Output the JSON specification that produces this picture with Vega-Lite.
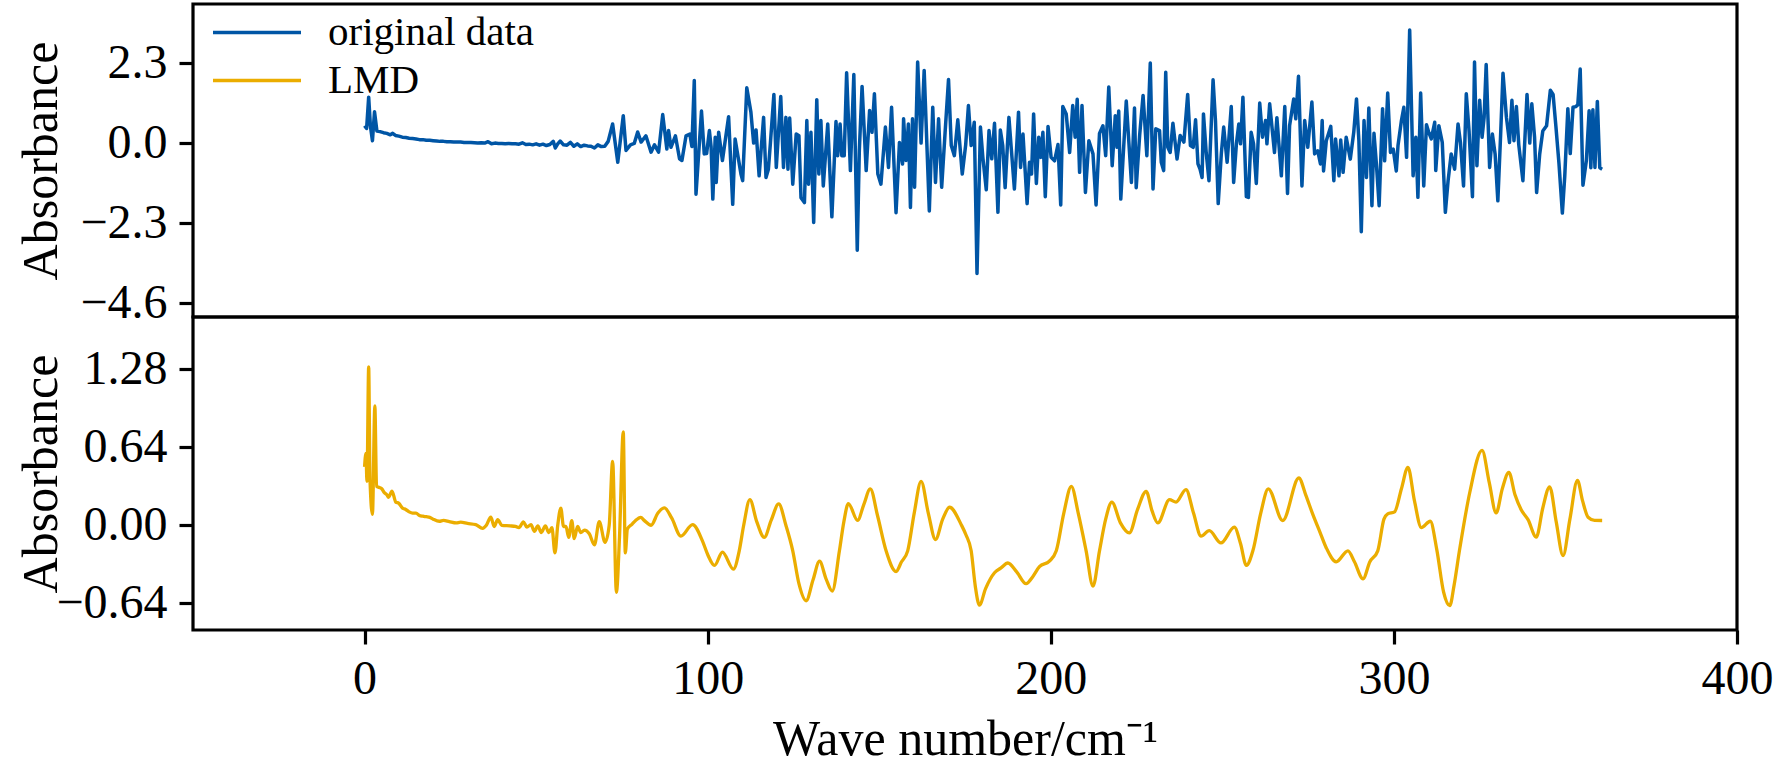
{
  "$schema": "https://vega.github.io/schema/vega-lite/v6.json",
  "background": "white",
  "padding": {"left": 14, "top": 2, "right": 4, "bottom": 4},
  "spacing": 0,
  "bounds": "flush",
  "config": {
    "font": "Liberation Serif",
    "view": {"stroke": "black", "strokeWidth": 3.2},
    "axis": {
      "grid": false,
      "domain": false,
      "ticks": true,
      "tickColor": "black",
      "tickWidth": 3.2,
      "tickSize": 14,
      "labelColor": "black",
      "labelFont": "Liberation Serif",
      "labelFontSize": 48,
      "labelFlush": false,
      "labelOverlap": false,
      "titleColor": "black",
      "titleFont": "Liberation Serif",
      "titleFontSize": 50,
      "titleFontWeight": "normal"
    }
  },
  "datasets": {
    "orig": [
      {"wave":0,"value":0.5},{"wave":0.6,"value":0.42},{"wave":1.2,"value":1.32},{"wave":1.7,"value":0.5},{"wave":2.3,"value":0.07},{"wave":2.9,"value":0.9},{"wave":3.6,"value":0.35},{"wave":4.5,"value":0.33},{"wave":5.5,"value":0.3},{"wave":6.5,"value":0.28},{"wave":7.5,"value":0.24},{"wave":8.2,"value":0.28},{"wave":9,"value":0.22},{"wave":10,"value":0.2},{"wave":11,"value":0.17},{"wave":12,"value":0.16},{"wave":13,"value":0.14},{"wave":14,"value":0.13},{"wave":15,"value":0.12},{"wave":16,"value":0.1},{"wave":17,"value":0.1},{"wave":18,"value":0.08},{"wave":19,"value":0.08},{"wave":20,"value":0.07},{"wave":21,"value":0.06},{"wave":22,"value":0.05},{"wave":23,"value":0.05},{"wave":24,"value":0.04},{"wave":25,"value":0.04},{"wave":26,"value":0.03},{"wave":27,"value":0.03},{"wave":28,"value":0.03},{"wave":29,"value":0.02},{"wave":30,"value":0.02},{"wave":31,"value":0.02},{"wave":32,"value":0.01},{"wave":33,"value":0.0},{"wave":34,"value":0.01},{"wave":35,"value":0.0},{"wave":36,"value":0.04},{"wave":37,"value":-0.02},{"wave":38,"value":0.0},{"wave":39,"value":-0.01},{"wave":40,"value":-0.01},{"wave":41,"value":-0.02},{"wave":42,"value":-0.01},{"wave":43,"value":-0.02},{"wave":44,"value":-0.02},{"wave":45,"value":-0.03},{"wave":46,"value":0.01},{"wave":47,"value":-0.04},{"wave":48,"value":-0.03},{"wave":49,"value":-0.05},{"wave":50,"value":-0.02},{"wave":51,"value":-0.06},{"wave":52,"value":-0.03},{"wave":53,"value":-0.07},{"wave":54,"value":-0.04},{"wave":55,"value":0.05},{"wave":55.6,"value":-0.14},{"wave":56.3,"value":-0.02},{"wave":57,"value":0.06},{"wave":58,"value":-0.05},{"wave":59,"value":-0.06},{"wave":60,"value":0.02},{"wave":61,"value":-0.09},{"wave":62,"value":-0.02},{"wave":63,"value":-0.1},{"wave":64,"value":-0.06},{"wave":65,"value":-0.08},{"wave":66,"value":-0.09},{"wave":67,"value":-0.14},{"wave":68,"value":-0.05},{"wave":69,"value":-0.1},{"wave":70,"value":-0.09},{"wave":71,"value":0.05},
      {"wave":72.3,"value":0.55},{"wave":73.8,"value":-0.55},{"wave":75.4,"value":0.79},{"wave":76.2,"value":-0.21},{"wave":77.5,"value":-0.05},{"wave":78.6,"value":-0.01},{"wave":79.6,"value":0.32},{"wave":80.6,"value":0.03},{"wave":82,"value":0.21},{"wave":83.5,"value":-0.26},{"wave":84.5,"value":-0.05},{"wave":85.7,"value":-0.26},{"wave":86.9,"value":0.82},{"wave":88.1,"value":-0.17},{"wave":88.6,"value":0.36},{"wave":89.3,"value":-0.12},{"wave":90.6,"value":0.21},{"wave":91.8,"value":-0.45},{"wave":92.5,"value":-0.5},{"wave":93.7,"value":0.21},{"wave":94.8,"value":0.26},{"wave":95.4,"value":-0.1},{"wave":96.1,"value":1.8},{"wave":96.6,"value":-1.47},{"wave":98.2,"value":0.92},{"wave":99,"value":-0.31},{"wave":99.7,"value":-0.3},{"wave":100.5,"value":0.36},{"wave":101,"value":-0.1},{"wave":101.5,"value":-1.61},{"wave":102.2,"value":0.17},{"wave":102.5,"value":-1.13},{"wave":103.2,"value":0.31},{"wave":104.3,"value":-0.5},{"wave":106.1,"value":0.76},{"wave":107.3,"value":-1.76},{"wave":108,"value":0.12},{"wave":109.7,"value":-0.89},{"wave":110.2,"value":-1.08},{"wave":111.4,"value":1.59},{"wave":112.6,"value":0.89},{"wave":113.4,"value":0.0},{"wave":114.1,"value":0.38},{"wave":115,"value":-0.94},{"wave":116.3,"value":0.74},{"wave":117,"value":-0.99},{"wave":117.7,"value":-0.75},{"wave":118.3,"value":0.02},{"wave":119.3,"value":1.4},{"wave":120,"value":-0.7},{"wave":121.3,"value":1.34},{"wave":122.1,"value":-0.7},{"wave":122.8,"value":0.74},{"wave":123.4,"value":-0.75},{"wave":123.9,"value":0.72},{"wave":124.8,"value":-1.18},{"wave":125.8,"value":0.26},{"wave":126.6,"value":0.21},{"wave":127.2,"value":-1.57},{"wave":128.2,"value":-1.71},{"wave":128.9,"value":0.65},{"wave":129.4,"value":-1.18},{"wave":130.1,"value":0.31},{"wave":130.9,"value":-2.28},{"wave":131.8,"value":1.25},{"wave":132.4,"value":-0.89},{"wave":133,"value":0.65},{"wave":133.7,"value":-1.23},{"wave":135,"value":0.55},{"wave":136.2,"value":-2.12},{"wave":137.4,"value":0.62},{"wave":137.9,"value":-0.36},{"wave":138.6,"value":0.55},{"wave":139.1,"value":-0.36},{"wave":139.8,"value":-0.36},{"wave":140.5,"value":2.02},{"wave":141.6,"value":-0.79},{"wave":142.6,"value":1.97},{"wave":143.6,"value":-3.08},{"wave":144.2,"value":-0.21},{"wave":145,"value":1.63},{"wave":146.2,"value":-0.79},{"wave":147.2,"value":0.94},{"wave":147.9,"value":0.31},{"wave":148.6,"value":1.42},{"wave":149.6,"value":-0.89},{"wave":150.5,"value":-1.18},{"wave":151.8,"value":0.46},{"wave":152.7,"value":-0.7},{"wave":153.6,"value":1.03},{"wave":154.9,"value":-2.0},{"wave":155.9,"value":0.02},{"wave":156.8,"value":-0.6},{"wave":157.1,"value":0.7},{"wave":157.8,"value":-0.5},{"wave":158.5,"value":0.55},{"wave":159.1,"value":-1.85},{"wave":159.7,"value":0.7},{"wave":160.3,"value":-1.27},{"wave":161.2,"value":2.33},{"wave":162.2,"value":0.0},{"wave":163.1,"value":2.09},{"wave":164.6,"value":-1.95},{"wave":165.6,"value":1.03},{"wave":166.4,"value":-1.13},{"wave":167.3,"value":0.7},{"wave":168.2,"value":-1.27},{"wave":169.2,"value":0.31},{"wave":170.2,"value":1.83},{"wave":171,"value":-0.07},{"wave":171.9,"value":-0.36},{"wave":172.9,"value":0.67},{"wave":174.2,"value":-0.89},{"wave":175.2,"value":-0.05},{"wave":176,"value":1.08},{"wave":176.8,"value":-0.07},{"wave":177.7,"value":0.6},{"wave":178.5,"value":-3.75},{"wave":179.5,"value":0.46},{"wave":180.2,"value":-0.41},{"wave":181.2,"value":-1.34},{"wave":182,"value":0.36},{"wave":182.8,"value":-0.45},{"wave":183.6,"value":0.57},{"wave":184.6,"value":-1.99},{"wave":185.3,"value":0.38},{"wave":186,"value":-0.07},{"wave":186.7,"value":-1.28},{"wave":187.8,"value":0.74},{"wave":188.5,"value":-0.17},{"wave":189.4,"value":-1.32},{"wave":190.6,"value":0.89},{"wave":191.2,"value":-0.7},{"wave":191.9,"value":0.26},{"wave":193.1,"value":-1.74},{"wave":193.8,"value":-0.55},{"wave":194.4,"value":-0.89},{"wave":195,"value":0.84},{"wave":195.8,"value":-1.16},{"wave":196.5,"value":0.17},{"wave":197.1,"value":-0.41},{"wave":197.7,"value":0.31},{"wave":198.4,"value":-1.54},{"wave":199.2,"value":0.48},{"wave":200.1,"value":-0.41},{"wave":201.1,"value":-0.51},{"wave":202.1,"value":-0.04},{"wave":202.9,"value":-1.78},{"wave":203.5,"value":1.05},{"wave":204.5,"value":0.84},{"wave":205.5,"value":-0.27},{"wave":206.4,"value":1.08},{"wave":207.1,"value":0.17},{"wave":207.7,"value":1.26},{"wave":208.4,"value":-0.84},{"wave":209.1,"value":1.08},{"wave":210.1,"value":-1.42},{"wave":211.1,"value":0.07},{"wave":212.3,"value":-0.31},{"wave":213.2,"value":-1.78},{"wave":214.2,"value":0.28},{"wave":215.2,"value":0.5},{"wave":216,"value":-0.36},{"wave":216.9,"value":1.61},{"wave":217.9,"value":-0.65},{"wave":218.8,"value":0.79},{"wave":219.3,"value":-0.12},{"wave":219.8,"value":0.92},{"wave":220.4,"value":-1.61},{"wave":221,"value":-0.55},{"wave":222,"value":1.21},{"wave":223.5,"value":-1.13},{"wave":224.4,"value":1.01},{"wave":224.9,"value":-1.28},{"wave":225.9,"value":0.22},{"wave":226.9,"value":1.37},{"wave":228,"value":-0.36},{"wave":229,"value":2.3},{"wave":229.8,"value":-1.32},{"wave":230.6,"value":0.41},{"wave":231.7,"value":0.36},{"wave":232.2,"value":-0.55},{"wave":232.9,"value":-0.79},{"wave":233.5,"value":2.04},{"wave":234.1,"value":-0.12},{"wave":234.8,"value":-0.27},{"wave":235.6,"value":0.57},{"wave":236.8,"value":-0.46},{"wave":237.7,"value":0.22},{"wave":238.8,"value":0.03},{"wave":239.9,"value":1.4},{"wave":240.7,"value":-0.07},{"wave":241.5,"value":-0.12},{"wave":242.2,"value":0.67},{"wave":242.9,"value":-0.6},{"wave":243.5,"value":-0.75},{"wave":244.1,"value":-0.99},{"wave":244.5,"value":0.84},{"wave":245.3,"value":-0.27},{"wave":246.1,"value":-1.08},{"wave":247.3,"value":1.82},{"wave":248,"value":0.65},{"wave":248.8,"value":-1.74},{"wave":249.7,"value":-0.31},{"wave":250.4,"value":0.46},{"wave":251.4,"value":-0.55},{"wave":252.6,"value":1.05},{"wave":253.3,"value":-1.13},{"wave":254.1,"value":-0.02},{"wave":254.8,"value":0.55},{"wave":255.3,"value":-0.02},{"wave":256,"value":1.32},{"wave":257,"value":-1.54},{"wave":257.6,"value":-1.56},{"wave":258.4,"value":0.31},{"wave":259.1,"value":-0.02},{"wave":259.9,"value":-1.16},{"wave":260.9,"value":1.15},{"wave":261.7,"value":0.17},{"wave":262.6,"value":0.65},{"wave":263,"value":-0.02},{"wave":263.8,"value":1.13},{"wave":265.2,"value":-0.27},{"wave":265.9,"value":0.73},{"wave":267.2,"value":-0.94},{"wave":268.2,"value":1.05},{"wave":269,"value":-1.45},{"wave":269.6,"value":0.5},{"wave":270.8,"value":1.27},{"wave":271.4,"value":0.7},{"wave":272.2,"value":1.92},{"wave":273.2,"value":-1.23},{"wave":274,"value":0.65},{"wave":274.9,"value":-0.12},{"wave":276.1,"value":1.18},{"wave":276.9,"value":-0.31},{"wave":277.8,"value":-0.22},{"wave":278.6,"value":-0.6},{"wave":279.1,"value":0.65},{"wave":279.5,"value":-0.8},{"wave":280.3,"value":0.07},{"wave":281.6,"value":0.48},{"wave":282.5,"value":-1.08},{"wave":283,"value":0.12},{"wave":284,"value":-0.94},{"wave":284.5,"value":0.09},{"wave":285.2,"value":-0.84},{"wave":286.1,"value":0.17},{"wave":287.3,"value":-0.46},{"wave":288.3,"value":0.31},{"wave":289.1,"value":1.27},{"wave":289.8,"value":0.07},{"wave":290.5,"value":-2.55},{"wave":291.3,"value":0.65},{"wave":292,"value":-0.99},{"wave":292.7,"value":1.01},{"wave":293.6,"value":-1.8},{"wave":294.2,"value":0.28},{"wave":294.9,"value":-0.6},{"wave":295.7,"value":-1.8},{"wave":296.7,"value":0.99},{"wave":297.3,"value":-0.51},{"wave":298.2,"value":1.44},{"wave":299,"value":-0.27},{"wave":299.8,"value":-0.17},{"wave":300.7,"value":-0.8},{"wave":301.2,"value":-0.07},{"wave":302.2,"value":0.65},{"wave":302.9,"value":1.03},{"wave":303.7,"value":-0.41},{"wave":304.6,"value":3.25},{"wave":305.6,"value":-0.94},{"wave":306.4,"value":0.17},{"wave":307,"value":-1.56},{"wave":307.8,"value":1.44},{"wave":308.7,"value":-1.23},{"wave":309.5,"value":0.53},{"wave":310.2,"value":0.3},{"wave":310.9,"value":0.12},{"wave":311.9,"value":0.6},{"wave":312.2,"value":-0.79},{"wave":313.1,"value":0.5},{"wave":314.1,"value":0.02},{"wave":315,"value":-1.99},{"wave":315.8,"value":-1.08},{"wave":316.7,"value":-0.31},{"wave":317.7,"value":-0.75},{"wave":318.7,"value":0.55},{"wave":319.4,"value":0.02},{"wave":320.3,"value":-1.23},{"wave":321.1,"value":1.42},{"wave":321.9,"value":0.36},{"wave":322.9,"value":-1.54},{"wave":323.5,"value":2.33},{"wave":324.2,"value":-0.65},{"wave":325,"value":1.23},{"wave":325.7,"value":0.17},{"wave":326.3,"value":0.74},{"wave":326.9,"value":2.26},{"wave":327.9,"value":-0.7},{"wave":328.7,"value":0.26},{"wave":329.5,"value":-0.31},{"wave":330.3,"value":-1.66},{"wave":331.1,"value":0.22},{"wave":331.8,"value":2.01},{"wave":332.8,"value":0.74},{"wave":333.7,"value":0.02},{"wave":334.4,"value":1.23},{"wave":335,"value":0.07},{"wave":335.7,"value":1.05},{"wave":336.4,"value":-0.05},{"wave":337.6,"value":-1.08},{"wave":338.8,"value":1.4},{"wave":339.6,"value":0.0},{"wave":340.2,"value":1.13},{"wave":341,"value":0.17},{"wave":341.6,"value":-1.42},{"wave":342.5,"value":-0.31},{"wave":343.4,"value":0.35},{"wave":344.5,"value":0.5},{"wave":345.6,"value":1.52},{"wave":346.4,"value":1.4},{"wave":347.2,"value":0.5},{"wave":348.1,"value":-0.57},{"wave":349.1,"value":-2.01},{"wave":349.8,"value":-0.95},{"wave":350.7,"value":0.99},{"wave":351.4,"value":-0.3},{"wave":352.2,"value":1.03},{"wave":353,"value":1.05},{"wave":353.6,"value":1.1},{"wave":354.3,"value":2.13},{"wave":355.1,"value":-1.21},{"wave":356.1,"value":-0.5},{"wave":356.9,"value":0.93},{"wave":357.4,"value":-0.71},{"wave":358,"value":0.96},{"wave":358.6,"value":-0.7},{"wave":359.3,"value":1.2},{"wave":360,"value":-0.71},{"wave":360.7,"value":-0.75}
    ],
    "lmd": [
      {"wave":0,"value":0.48},{"wave":0.4,"value":0.59},{"wave":0.7,"value":0.36},{"wave":1.2,"value":1.3},{"wave":1.6,"value":0.36},{"wave":2.3,"value":0.09},{"wave":3.0,"value":0.98},{"wave":3.5,"value":0.32},{"wave":4.3,"value":0.31},{"wave":5,"value":0.3},{"wave":5.7,"value":0.27},{"wave":6.5,"value":0.25},{"wave":7,"value":0.23},{"wave":8,"value":0.28},{"wave":9.1,"value":0.19},{"wave":10,"value":0.18},{"wave":11.1,"value":0.14},{"wave":12,"value":0.13},{"wave":13,"value":0.11},{"wave":14,"value":0.1},{"wave":15,"value":0.1},{"wave":16,"value":0.08},{"wave":17,"value":0.074},{"wave":18,"value":0.07},{"wave":19,"value":0.065},{"wave":20,"value":0.05},{"wave":21.8,"value":0.033},{"wave":23,"value":0.04},{"wave":24.7,"value":0.03},{"wave":26.7,"value":0.019},{"wave":28,"value":0.025},{"wave":30,"value":0.015},{"wave":32.4,"value":0.005},{"wave":34.4,"value":-0.025},{"wave":35.5,"value":0.0},{"wave":36.8,"value":0.067},{"wave":37.8,"value":-0.01},{"wave":38.8,"value":0.046},{"wave":40,"value":0.0},{"wave":42.4,"value":-0.005},{"wave":44,"value":-0.01},{"wave":45,"value":-0.02},{"wave":46.3,"value":0.028},{"wave":47.3,"value":-0.015},{"wave":48.5,"value":0.005},{"wave":49.5,"value":-0.05},{"wave":50.5,"value":-0.005},{"wave":51.5,"value":-0.06},{"wave":52.7,"value":-0.005},{"wave":53.7,"value":-0.06},{"wave":54.6,"value":-0.02},{"wave":55.5,"value":-0.227},{"wave":56.3,"value":0.0},{"wave":57.2,"value":0.14},{"wave":58,"value":-0.01},{"wave":58.7,"value":-0.01},{"wave":59.5,"value":-0.1},{"wave":60.4,"value":0.037},{"wave":61.1,"value":-0.11},{"wave":62.1,"value":-0.01},{"wave":63,"value":-0.06},{"wave":64.1,"value":-0.04},{"wave":65.5,"value":-0.07},{"wave":67,"value":-0.16},{"wave":68.4,"value":0.03},{"wave":70.1,"value":-0.14},{"wave":71.3,"value":0.0},{"wave":72.3,"value":0.525},{"wave":73.4,"value":-0.55},{"wave":74.3,"value":-0.1},{"wave":75.4,"value":0.766},{"wave":76.0,"value":-0.227},{"wave":76.6,"value":-0.03},{"wave":78,"value":0.01},{"wave":79,"value":0.04},{"wave":80.5,"value":0.065},{"wave":81.5,"value":0.04},{"wave":83.5,"value":0.0},{"wave":85.5,"value":0.1},{"wave":87.4,"value":0.142},{"wave":89.5,"value":0.06},{"wave":92.2,"value":-0.09},{"wave":95.6,"value":0.005},{"wave":98.5,"value":-0.13},{"wave":100,"value":-0.24},{"wave":102,"value":-0.33},{"wave":104.3,"value":-0.22},{"wave":107.5,"value":-0.36},{"wave":109.2,"value":-0.21},{"wave":110.5,"value":0.0},{"wave":112.3,"value":0.21},{"wave":114.3,"value":0.03},{"wave":116.5,"value":-0.1},{"wave":118.5,"value":0.04},{"wave":120.7,"value":0.175},{"wave":122.8,"value":0.0},{"wave":124.8,"value":-0.21},{"wave":126.6,"value":-0.48},{"wave":128.7,"value":-0.62},{"wave":130.7,"value":-0.45},{"wave":132.6,"value":-0.295},{"wave":134.5,"value":-0.44},{"wave":136.3,"value":-0.54},{"wave":138.4,"value":-0.21},{"wave":139.7,"value":0.03},{"wave":141.0,"value":0.178},{"wave":143.7,"value":0.04},{"wave":145.5,"value":0.17},{"wave":147.4,"value":0.298},{"wave":149.5,"value":0.08},{"wave":152,"value":-0.21},{"wave":154.9,"value":-0.38},{"wave":156.5,"value":-0.3},{"wave":158.3,"value":-0.21},{"wave":160.2,"value":0.1},{"wave":162.2,"value":0.361},{"wave":164.3,"value":0.1},{"wave":166.4,"value":-0.117},{"wave":168.5,"value":0.05},{"wave":170.5,"value":0.148},{"wave":173.9,"value":0.005},{"wave":175.3,"value":-0.08},{"wave":176.8,"value":-0.21},{"wave":178,"value":-0.5},{"wave":179.2,"value":-0.656},{"wave":181,"value":-0.52},{"wave":183.6,"value":-0.39},{"wave":185.5,"value":-0.35},{"wave":187.5,"value":-0.31},{"wave":190,"value":-0.38},{"wave":192.8,"value":-0.48},{"wave":194.8,"value":-0.42},{"wave":196.7,"value":-0.34},{"wave":199.6,"value":-0.295},{"wave":201.6,"value":-0.21},{"wave":203.8,"value":0.1},{"wave":206,"value":0.32},{"wave":208,"value":0.1},{"wave":210.3,"value":-0.21},{"wave":212.3,"value":-0.5},{"wave":214.2,"value":-0.21},{"wave":216,"value":0.05},{"wave":217.8,"value":0.19},{"wave":220.3,"value":0.02},{"wave":222.9,"value":-0.063},{"wave":225.3,"value":0.13},{"wave":227.8,"value":0.279},{"wave":229.5,"value":0.12},{"wave":231.2,"value":0.019},{"wave":234.6,"value":0.21},{"wave":236.5,"value":0.19},{"wave":239.4,"value":0.293},{"wave":241.6,"value":0.1},{"wave":243.8,"value":-0.09},{"wave":246.2,"value":-0.044},{"wave":249.6,"value":-0.145},{"wave":253.5,"value":-0.016},{"wave":255.3,"value":-0.15},{"wave":257.0,"value":-0.33},{"wave":258.9,"value":-0.21},{"wave":261.2,"value":0.1},{"wave":263.4,"value":0.298},{"wave":267.6,"value":0.038},{"wave":272.3,"value":0.388},{"wave":274.3,"value":0.25},{"wave":276.4,"value":0.087},{"wave":278.5,"value":-0.06},{"wave":280.3,"value":-0.186},{"wave":283.2,"value":-0.3},{"wave":286.6,"value":-0.21},{"wave":288.5,"value":-0.3},{"wave":291,"value":-0.44},{"wave":293,"value":-0.3},{"wave":295.3,"value":-0.21},{"wave":297.1,"value":0.05},{"wave":298.2,"value":0.093},{"wave":300.2,"value":0.11},{"wave":302.2,"value":0.3},{"wave":304.1,"value":0.476},{"wave":306,"value":0.2},{"wave":308,"value":-0.02},{"wave":310.6,"value":0.033},{"wave":312.5,"value":-0.2},{"wave":314.5,"value":-0.55},{"wave":316.3,"value":-0.66},{"wave":317.5,"value":-0.5},{"wave":319.1,"value":-0.21},{"wave":322.1,"value":0.267},{"wave":325.7,"value":0.615},{"wave":327.8,"value":0.35},{"wave":329.8,"value":0.101},{"wave":331.6,"value":0.3},{"wave":333.5,"value":0.435},{"wave":335.3,"value":0.25},{"wave":337.1,"value":0.128},{"wave":339.1,"value":0.046},{"wave":341.5,"value":-0.098},{"wave":343.4,"value":0.142},{"wave":345.4,"value":0.316},{"wave":347.3,"value":0.03},{"wave":349.3,"value":-0.25},{"wave":351.3,"value":0.05},{"wave":353.5,"value":0.368},{"wave":355,"value":0.2},{"wave":356.6,"value":0.066},{"wave":358.5,"value":0.04},{"wave":360.7,"value":0.039}
    ]
  },
  "vconcat": [
    {
      "width": 1544,
      "height": 313,
      "data": {"name": "orig"},
      "mark": {"type": "line", "strokeWidth": 3.5, "strokeJoin": "round"},
      "encoding": {
        "x": {
          "field": "wave",
          "type": "quantitative",
          "scale": {"domain": [-50, 400], "nice": false, "zero": false},
          "axis": null
        },
        "y": {
          "field": "value",
          "type": "quantitative",
          "scale": {"domain": [-5.0, 4.0], "nice": false, "zero": false},
          "axis": {
            "values": [2.3, 0, -2.3, -4.6],
            "format": ".1f",
            "labelPadding": 12,
            "title": "Absorbance",
            "titleX": -137,
            "titleBaseline": "alphabetic"
          }
        },
        "color": {
          "datum": "original data",
          "type": "nominal",
          "scale": {"domain": ["original data", "LMD"], "range": ["#0055a5", "#ebad00"]},
          "legend": {
            "title": null,
            "orient": "none",
            "legendX": 18,
            "legendY": 8,
            "padding": 0,
            "symbolType": "stroke",
            "symbolSize": 7744,
            "symbolStrokeWidth": 3.5,
            "clipHeight": 41,
            "rowPadding": 6,
            "labelFont": "Liberation Serif",
            "labelFontSize": 41,
            "labelColor": "black",
            "labelOffset": 25,
            "labelLimit": 400
          }
        }
      }
    },
    {
      "width": 1544,
      "height": 313,
      "data": {"name": "lmd"},
      "mark": {"type": "line", "strokeWidth": 3.3, "strokeJoin": "round", "color": "#ebad00", "interpolate": "monotone"},
      "encoding": {
        "x": {
          "field": "wave",
          "type": "quantitative",
          "scale": {"domain": [-50, 400], "nice": false, "zero": false},
          "axis": {
            "values": [0, 100, 200, 300, 400],
            "format": "d",
            "labelPadding": 11,
            "title": "Wave number/cm⁻¹",
            "titleY": 124,
            "titleBaseline": "alphabetic"
          }
        },
        "y": {
          "field": "value",
          "type": "quantitative",
          "scale": {"domain": [-0.86, 1.71], "nice": false, "zero": false},
          "axis": {
            "values": [1.28, 0.64, 0, -0.64],
            "format": ".2f",
            "labelPadding": 12,
            "title": "Absorbance",
            "titleX": -137,
            "titleBaseline": "alphabetic"
          }
        }
      }
    }
  ],
  "resolve": {"scale": {"color": "independent", "x": "shared"}, "legend": {"color": "independent"}}
}
